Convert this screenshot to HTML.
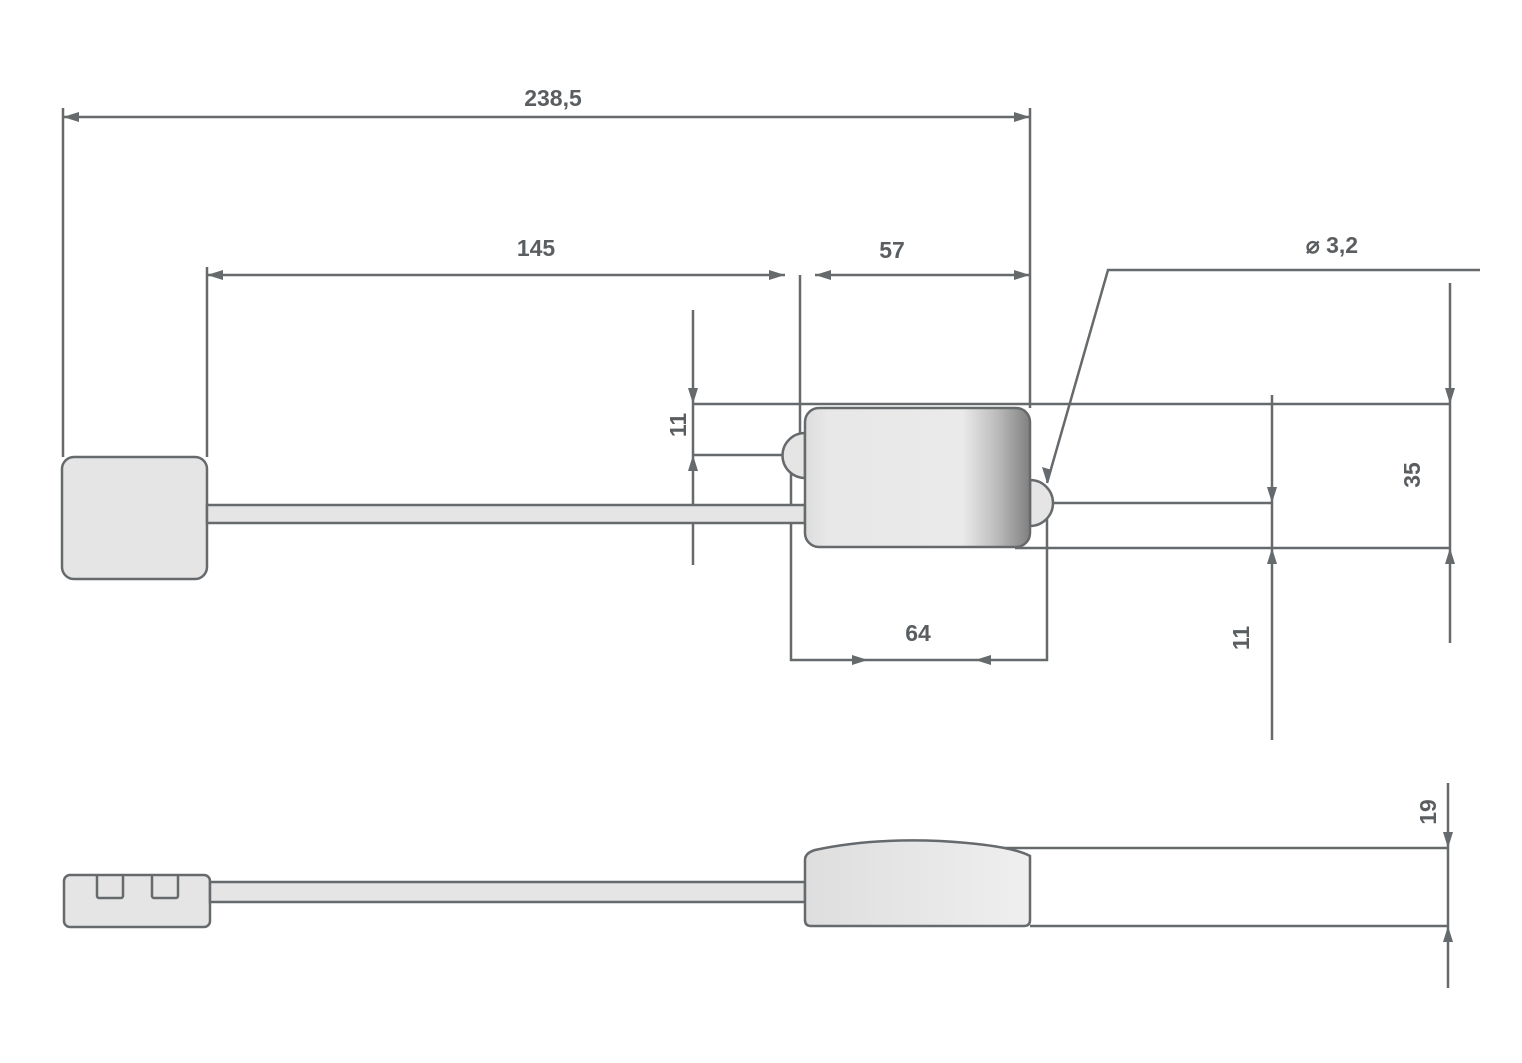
<!DOCTYPE html>
<html><head><meta charset="utf-8"><style>html,body{margin:0;padding:0;background:#fff}svg{display:block}</style></head>
<body>
<svg width="1522" height="1063" viewBox="0 0 1522 1063" xmlns="http://www.w3.org/2000/svg">
<defs>
<linearGradient id="g" x1="0" x2="1" y1="0" y2="0">
<stop offset="0" stop-color="#dcdcdc"/><stop offset="0.1" stop-color="#e8e8e8"/><stop offset="0.7" stop-color="#eaeaea"/><stop offset="0.85" stop-color="#bdbdbd"/><stop offset="1" stop-color="#808080"/>
</linearGradient>
<linearGradient id="g2" x1="0" x2="1" y1="0" y2="0">
<stop offset="0" stop-color="#dedede"/><stop offset="1" stop-color="#efefef"/>
</linearGradient>
</defs>
<g stroke="#666a6d" stroke-width="2.5" fill="none">
<!-- dimension lines -->
<line x1="63" y1="108" x2="63" y2="457"/>
<line x1="1030" y1="108" x2="1030" y2="408"/>
<line x1="63" y1="117" x2="1030" y2="117"/>
<line x1="207" y1="267" x2="207" y2="457"/>
<line x1="207" y1="275" x2="785" y2="275"/>
<line x1="815" y1="275" x2="1030" y2="275"/>
<line x1="800" y1="275" x2="800" y2="470"/>
<line x1="693" y1="310" x2="693" y2="565"/>
<line x1="693" y1="404" x2="1450" y2="404"/>
<line x1="693" y1="455" x2="800" y2="455"/>
<polyline points="1480,270 1108,270 1047,483"/>
<line x1="1450" y1="283" x2="1450" y2="643"/>
<line x1="1015" y1="548" x2="1450" y2="548"/>
<line x1="1272" y1="395" x2="1272" y2="740"/>
<line x1="1047" y1="503" x2="1272" y2="503"/>
<polyline points="791,455 791,660 1047,660 1047,503"/>
<line x1="1000" y1="848" x2="1448" y2="848"/>
<line x1="1030" y1="926" x2="1448" y2="926"/>
<line x1="1448" y1="783" x2="1448" y2="988"/>
</g>
<g fill="#666a6d">
<polygon points="63,117 79,112 79,122"/><polygon points="1030,117 1014,112 1014,122"/>
<polygon points="207,275 223,270 223,280"/><polygon points="785,275 769,270 769,280"/>
<polygon points="815,275 831,270 831,280"/><polygon points="1030,275 1014,270 1014,280"/>
<polygon points="693,404 688,388 698,388"/><polygon points="693,455 688,471 698,471"/>
<polygon points="1047,483 1042,467 1052,470"/>
<polygon points="1450,404 1445,388 1455,388"/><polygon points="1450,548 1445,564 1455,564"/>
<polygon points="1272,503 1267,487 1277,487"/><polygon points="1272,548 1267,564 1277,564"/>
<polygon points="868,660 852,655 852,665"/><polygon points="975,660 991,655 991,665"/>
<polygon points="1448,848 1443,832 1453,832"/><polygon points="1448,926 1443,942 1453,942"/>
</g>
<g stroke="#666a6d" stroke-width="2.5" fill="#e5e5e5">
<rect x="62" y="457" width="145" height="122" rx="12"/>
<rect x="207" y="505" width="598" height="18" fill="#e5e5e5"/>
<path d="M805,433 A22,22 0 0 0 805,478 Z"/>
<path d="M1030,480 A23,23 0 0 1 1030,526 Z"/>
<rect x="805" y="408" width="225" height="139" rx="14" fill="url(#g)"/>
<rect x="64" y="875" width="146" height="52" rx="6"/>
<path d="M97,875 V896 a2,2 0 0 0 2,2 H121 a2,2 0 0 0 2,-2 V875" fill="none"/>
<path d="M152,875 V896 a2,2 0 0 0 2,2 H176 a2,2 0 0 0 2,-2 V875" fill="none"/>
<rect x="210" y="882" width="595" height="20"/>
<path d="M805,860 Q805,853 815,850 Q870,838 940,841 Q1010,845 1030,856 V920 Q1030,926 1024,926 H811 Q805,926 805,920 Z" fill="url(#g2)"/>
</g>
<g font-family="Liberation Sans, sans-serif" font-weight="bold" font-size="23" fill="#5a5e61" text-anchor="middle">
<text x="553" y="106">238,5</text>
<text x="536" y="256">145</text>
<text x="892" y="258">57</text>
<text x="1332" y="253">⌀ 3,2</text>
<text x="918" y="641">64</text>
<text transform="translate(686,425) rotate(-90)">11</text>
<text transform="translate(1420,475) rotate(-90)">35</text>
<text transform="translate(1249,638) rotate(-90)">11</text>
<text transform="translate(1436,812) rotate(-90)">19</text>
</g>
</svg>
</body></html>
